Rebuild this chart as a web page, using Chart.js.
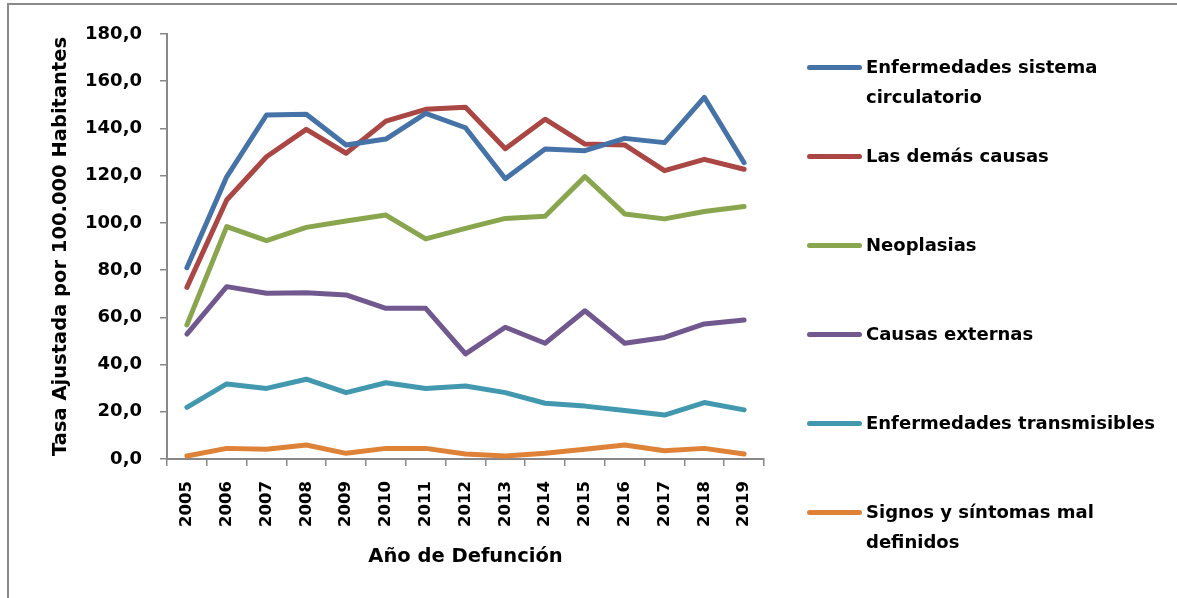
<!DOCTYPE html>
<html>
<head>
<meta charset="utf-8">
<script src="https://cdn.jsdelivr.net/npm/chart.js@4/dist/chart.umd.min.js"></script>
<style>
  html, body { margin:0; padding:0; background:#fff; }
  #wrap { position:relative; width:1177px; height:598px; overflow:hidden; background:#fff; }
  #frame { position:absolute; left:7px; top:3px; width:1200px; height:620px;
           border-top:2px solid #8a8a8a; border-left:2px solid #8a8a8a; }
  #c { position:absolute; left:0; top:0; }
  #legend { position:absolute; left:807px; top:52px; width:360px;
            font-family:'DejaVu Sans', sans-serif; font-weight:bold; font-size:18px; color:#000; }
  .item { position:relative; height:89px; }
  .swatch { position:absolute; left:0; top:13px; width:55px; height:5px; border-radius:3px; }
  .label { position:absolute; left:59px; top:0; width:300px; line-height:30px; }
</style>
</head>
<body>
<div id="wrap">
  <div id="frame"></div>
  <canvas id="c" width="1177" height="598"></canvas>
  <div id="legend"></div>
</div>
<script>
const years = ['2005','2006','2007','2008','2009','2010','2011','2012','2013','2014','2015','2016','2017','2018','2019'];
const yTickLabels = ['0,0','20,0','40,0','60,0','80,0','100,0','120,0','140,0','160,0','180,0'];

const circulatorio  = [81.0, 119.5, 145.7, 146.0, 133.0, 135.5, 146.4, 140.3, 118.7, 131.3, 130.6, 135.8, 134.0, 153.2, 125.5];
const demasCausas   = [72.7, 109.7, 128.0, 139.6, 129.5, 143.1, 148.1, 149.0, 131.4, 143.9, 133.4, 133.0, 122.1, 126.9, 122.7];
const neoplasias    = [56.8, 98.4, 92.5, 98.1, 100.8, 103.3, 93.2, 97.7, 101.9, 102.8, 119.6, 103.8, 101.7, 104.8, 106.9];
const externas      = [52.9, 73.0, 70.2, 70.4, 69.5, 63.8, 63.8, 44.5, 55.8, 49.0, 62.8, 49.0, 51.5, 57.2, 58.9];
const transmisibles = [21.9, 31.8, 29.9, 33.8, 28.1, 32.3, 29.9, 30.9, 28.1, 23.6, 22.4, 20.5, 18.6, 23.9, 20.8];
const malDefinidos  = [1.3, 4.5, 4.1, 5.9, 2.4, 4.5, 4.5, 2.1, 1.3, 2.4, 4.1, 5.9, 3.5, 4.5, 2.1];

const seriesNames = ['Enfermedades sistema circulatorio','Las demás causas','Neoplasias','Causas externas','Enfermedades transmisibles','Signos y síntomas mal definidos'];
const seriesData = [circulatorio, demasCausas, neoplasias, externas, transmisibles, malDefinidos];
const seriesColors = ['#4572A7','#AA4643','#89A54E','#71588F','#4198AF','#DE8238'];

const FONT = 'DejaVu Sans';
const axisColor = '#888888';

const datasets = seriesNames.map((n, i) => ({
  label: n,
  data: seriesData[i],
  borderColor: seriesColors[i],
  backgroundColor: seriesColors[i],
  borderWidth: 5,
  pointRadius: 0,
  borderCapStyle: 'round',
  borderJoinStyle: 'round',
  tension: 0,
  fill: false
}));

const chart = new Chart(document.getElementById('c'), {
  type: 'line',
  data: { labels: years, datasets },
  options: {
    responsive: false,
    animation: false,
    devicePixelRatio: 1,
    layout: { padding: { left: 8, top: 34, right: 413, bottom: 0 } },
    plugins: { legend: { display: false }, tooltip: { enabled: false } },
    scales: {
      x: {
        offset: true,
        grid: { offset: true, drawOnChartArea: false, drawTicks: true, tickLength: 7, color: axisColor, lineWidth: 1.5 },
        border: { color: axisColor, width: 2 },
        ticks: { autoSkip: false, maxRotation: 90, minRotation: 90, padding: 15, color: '#000',
                 font: { family: FONT, weight: 'bold', size: 16.5 } },
        title: { display: true, text: 'Año de Defunción', color: '#000',
                 font: { family: FONT, weight: 'bold', size: 19.5 }, padding: { top: 0, bottom: 29 } },
        afterFit(s) { s.height = 139; }
      },
      y: {
        min: 0, max: 180,
        grid: { drawOnChartArea: false, drawTicks: true, tickLength: 7, color: axisColor, lineWidth: 1.5 },
        border: { color: axisColor, width: 2 },
        ticks: { stepSize: 20, padding: 18, color: '#000',
                 font: { family: FONT, weight: 'bold', size: 18 },
                 callback: (v, i) => yTickLabels[i] },
        title: { display: true, text: 'Tasa Ajustada por 100.000 Habitantes', color: '#000',
                 font: { family: FONT, weight: 'bold', size: 19.5 }, padding: { top: 41, bottom: 0 } },
        afterFit(s) { s.width = 159; }
      }
    }
  }
});

const legend = document.getElementById('legend');
chart.data.datasets.forEach(ds => {
  const item = document.createElement('div');
  item.className = 'item';
  const sw = document.createElement('div');
  sw.className = 'swatch';
  sw.style.background = ds.borderColor;
  const lb = document.createElement('div');
  lb.className = 'label';
  lb.textContent = ds.label;
  item.appendChild(sw);
  item.appendChild(lb);
  legend.appendChild(item);
});
</script>
</body>
</html>
